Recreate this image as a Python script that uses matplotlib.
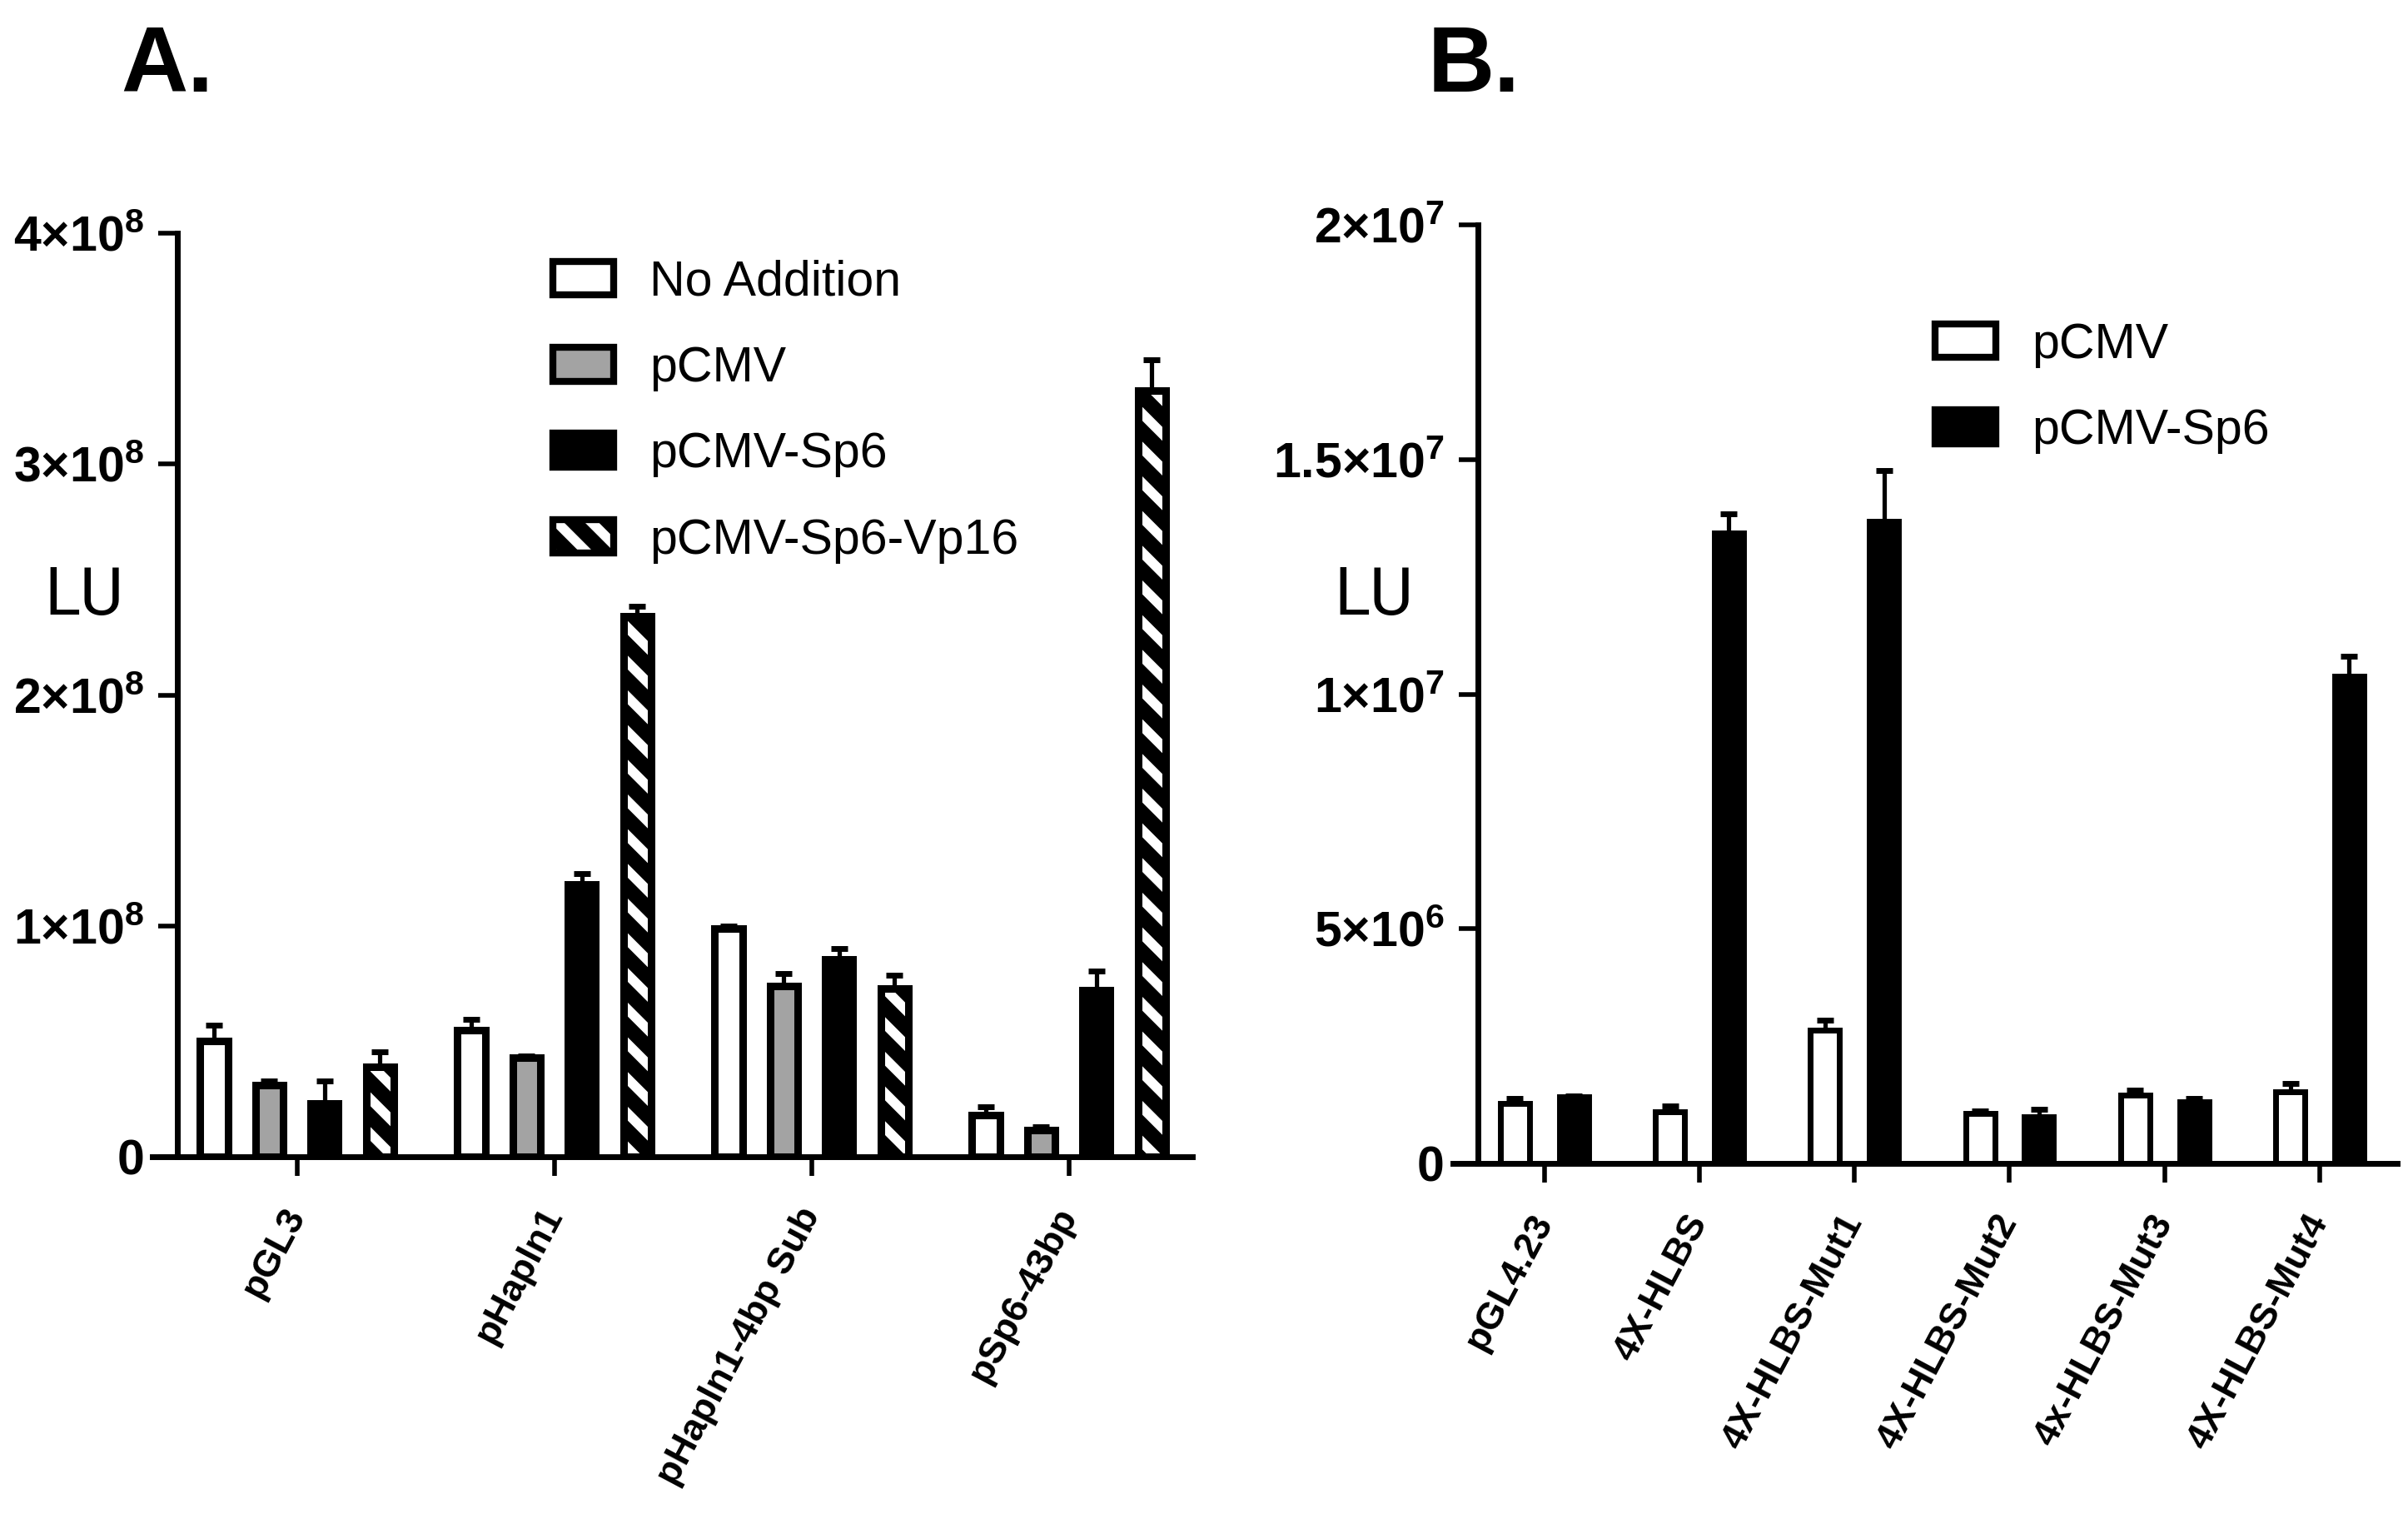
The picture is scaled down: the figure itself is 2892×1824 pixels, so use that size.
import numpy as np
import matplotlib
matplotlib.use('Agg')
import matplotlib.pyplot as plt
from matplotlib.patches import Patch
from matplotlib.legend_handler import HandlerTuple
from matplotlib.ticker import FuncFormatter

plt.rcParams['font.family'] = ['Liberation Sans', 'DejaVu Sans']
plt.rcParams['mathtext.fontset'] = 'custom'
plt.rcParams['mathtext.rm'] = 'Liberation Sans'
plt.rcParams['mathtext.bf'] = 'Liberation Sans:bold'
plt.rcParams['hatch.linewidth'] = 3.4

# ---- panel A data ----
groups_a = ['pGL3', 'pHapln1', 'pHapln1-4bp Sub', 'pSp6-43bp']
series_a = ['No Addition', 'pCMV', 'pCMV-Sp6', 'pCMV-Sp6-Vp16']
no_addition = [0.50e8, 0.55e8, 0.99e8, 0.18e8]
no_addition_err = [0.07e8, 0.044e8, 0.01e8, 0.035e8]
pcmv_a = [0.31e8, 0.43e8, 0.74e8, 0.115e8]
pcmv_a_err = [0.02e8, 0.005e8, 0.055e8, 0.015e8]
pcmv_sp6_a = [0.23e8, 1.18e8, 0.855e8, 0.72e8]
pcmv_sp6_a_err = [0.10e8, 0.045e8, 0.045e8, 0.085e8]
pcmv_sp6_vp16 = [0.39e8, 2.34e8, 0.73e8, 3.32e8]
pcmv_sp6_vp16_err = [0.066e8, 0.045e8, 0.055e8, 0.13e8]
yticks_a = [0, 1e8, 2e8, 3e8, 4e8]

# ---- panel B data ----
groups_b = ['pGL4.23', '4X-HLBS', '4X-HLBS-Mut1', '4X-HLBS-Mut2',
            '4x-HLBS-Mut3', '4X-HLBS-Mut4']
series_b = ['pCMV', 'pCMV-Sp6']
pcmv_b = [1.28e6, 1.10e6, 2.84e6, 1.06e6, 1.45e6, 1.53e6]
pcmv_b_err = [0.10e6, 0.12e6, 0.21e6, 0.06e6, 0.11e6, 0.17e6]
pcmv_sp6_b = [1.42e6, 13.44e6, 13.68e6, 1.00e6, 1.32e6, 10.39e6]
pcmv_sp6_b_err = [0.02e6, 0.40e6, 1.08e6, 0.15e6, 0.07e6, 0.41e6]
yticks_b = [0, 5e6, 1e7, 1.5e7, 2e7]

GRAY = '#a3a3a3'
W, H = 2892, 1824
DPI = 250
HATCH = '\\\\'


def sci_label(v, pos=None):
    if v == 0:
        return '0'
    exp = int(np.floor(np.log10(v)))
    mant = v / 10 ** exp
    return r'$\mathbf{%s{\times}10^{%d}}$' % (f'{mant:g}', exp)


def px_axes(fig, left, right, bottom, top):
    return fig.add_axes([left / W, 1 - bottom / H, (right - left) / W, (bottom - top) / H])


def style_axes(ax, yspine_x, xlim, yticks, groups):
    for s in ['top', 'right']:
        ax.spines[s].set_visible(False)
    ax.spines['left'].set_position(('data', yspine_x))
    for s in ['left', 'bottom']:
        ax.spines[s].set_linewidth(2.0)
    ax.set_xlim(*xlim)
    ax.set_ylim(0, yticks[-1])
    ax.set_yticks(yticks)
    ax.yaxis.set_major_formatter(FuncFormatter(sci_label))
    ax.tick_params(axis='both', direction='out', length=6.5, width=1.6)
    ax.tick_params(axis='y', labelsize=17, pad=5)
    for lab in ax.get_yticklabels():
        lab.set_fontweight('bold')
    ax.set_xticks(np.arange(len(groups)))
    ax.set_xticklabels(groups, rotation=62, ha='right', va='center',
                       rotation_mode='anchor', fontsize=13, fontweight='bold')
    ax.tick_params(axis='x', pad=12)


def draw_bar(ax, x, vals, errs, width, lw, face, hatch=None):
    ax.errorbar(x, vals, yerr=[np.zeros(len(vals)), errs], fmt='none', ecolor='black',
                elinewidth=1.5, capsize=3.0, capthick=2.0, zorder=2)
    if hatch:
        ax.bar(x, vals, width, color='black', edgecolor='white', hatch=hatch,
               linewidth=0, zorder=3)
        ax.bar(x, vals, width, facecolor='none', edgecolor='black', linewidth=lw, zorder=4)
    else:
        ax.bar(x, vals, width, facecolor=face, edgecolor='black', linewidth=lw, zorder=3)


fig = plt.figure(figsize=(W / DPI, H / DPI), dpi=DPI)

# Panel A
ax_a = px_axes(fig, 183, 1432, 1389, 280)
x_a = np.arange(len(groups_a))
step_a, width_a, lw_a = 0.215, 0.107, 2.6
offs_a = (np.arange(4) - 1.5) * step_a
draw_bar(ax_a, x_a + offs_a[0], no_addition, no_addition_err, width_a, lw_a, 'white')
draw_bar(ax_a, x_a + offs_a[1], pcmv_a, pcmv_a_err, width_a, lw_a, GRAY)
draw_bar(ax_a, x_a + offs_a[2], pcmv_sp6_a, pcmv_sp6_a_err, width_a, lw_a, 'black')
draw_bar(ax_a, x_a + offs_a[3], pcmv_sp6_vp16, pcmv_sp6_vp16_err, width_a, lw_a, 'black', hatch=HATCH)
style_axes(ax_a, -0.465, (-0.562, 3.48), yticks_a, groups_a)

legend_kw = dict(loc='upper left', frameon=False, prop={'weight': 'normal', 'size': 17},
                 handlelength=1.25, handleheight=0.68, handletextpad=0.72,
                 labelspacing=0.82, borderpad=0)

handles_a = [Patch(facecolor='white', edgecolor='black', linewidth=2.4),
             Patch(facecolor=GRAY, edgecolor='black', linewidth=2.4),
             Patch(facecolor='black', edgecolor='black', linewidth=2.4),
             (Patch(facecolor='black', edgecolor='white', hatch=HATCH, linewidth=0),
              Patch(facecolor='none', edgecolor='black', linewidth=2.4))]
fig.legend(handles_a, series_a, bbox_to_anchor=(634 / W, 1 - 282 / H),
           handler_map={tuple: HandlerTuple(ndivide=1, pad=0)}, **legend_kw)

# Panel B
ax_b = px_axes(fig, 1745, 2879, 1397, 270)
x_b = np.arange(len(groups_b))
step_b, width_b, lw_b = 0.38, 0.188, 2.0
draw_bar(ax_b, x_b - step_b / 2, pcmv_b, pcmv_b_err, width_b, lw_b, 'white')
draw_bar(ax_b, x_b + step_b / 2, pcmv_sp6_b, pcmv_sp6_b_err, width_b, lw_b, 'black')
style_axes(ax_b, -0.43, (-0.59, 5.5), yticks_b, groups_b)

handles_b = [Patch(facecolor='white', edgecolor='black', linewidth=2.4),
             Patch(facecolor='black', edgecolor='black', linewidth=2.4)]
fig.legend(handles_b, series_b, bbox_to_anchor=(2294 / W, 1 - 357 / H), **legend_kw)

# Labels
for xpx in [101, 1650]:
    fig.text(xpx / W, 1 - 716 / H, 'LU', ha='center', va='center', fontsize=23,
             family=['Roboto', 'DejaVu Sans'])
fig.text(145 / W, 1 - 110 / H, 'A.', ha='left', va='baseline', fontsize=32, fontweight='bold')
fig.text(1715 / W, 1 - 110 / H, 'B.', ha='left', va='baseline', fontsize=32, fontweight='bold')

fig.savefig('out.png', dpi=DPI)
